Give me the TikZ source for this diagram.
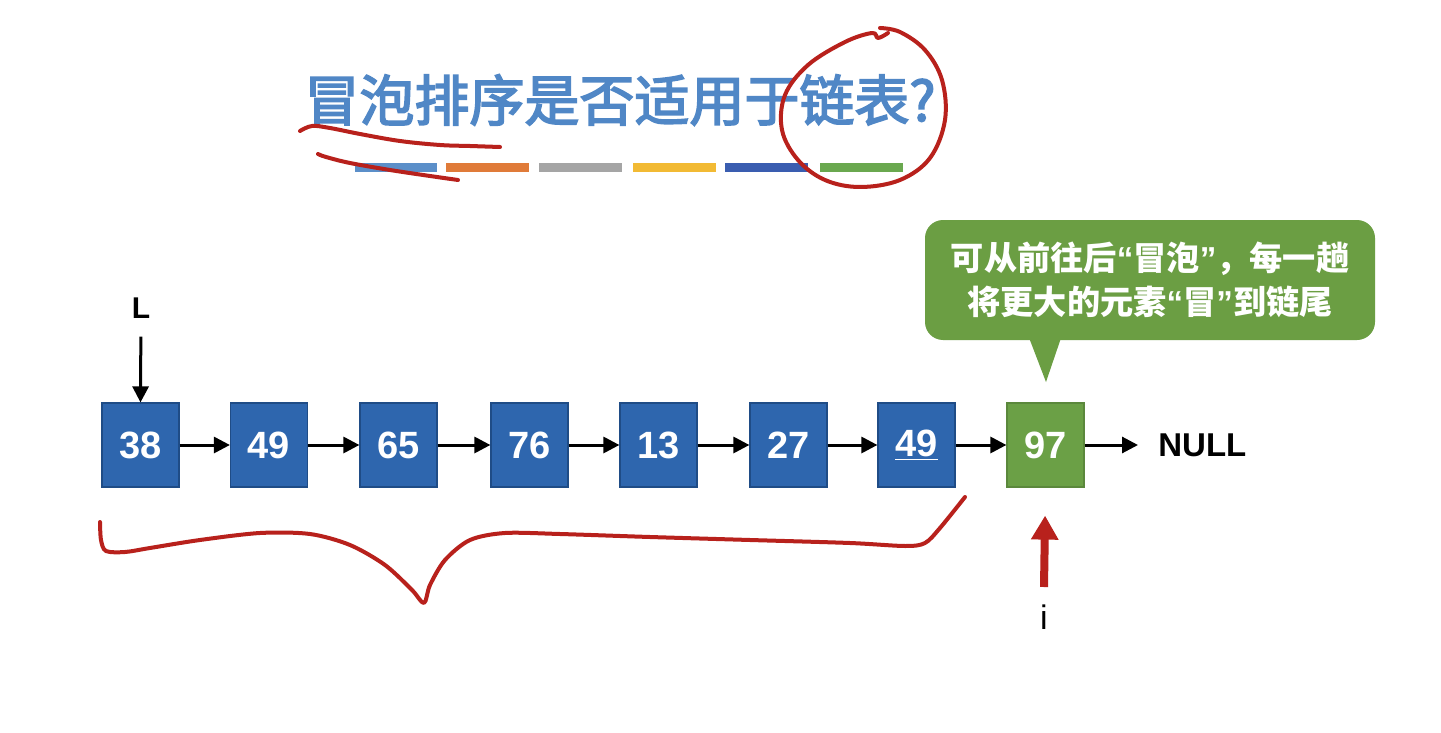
\documentclass[tikz,border=0pt]{standalone}
\usepackage{fontspec}
\setmainfont{Liberation Sans}
\newfontfamily\cjk{Noto Sans CJK SC}
\newfontfamily\cjktitle[FakeBold=3]{Noto Sans CJK SC}
\usetikzlibrary{arrows.meta}
\definecolor{boxblue}{HTML}{2E66AE}
\definecolor{boxborder}{HTML}{1F4C86}
\definecolor{boxgreen}{HTML}{6BA046}
\definecolor{bubgreen}{HTML}{6B9E43}
\definecolor{titleblue}{HTML}{5087C6}
\definecolor{inkred}{HTML}{B8211C}
\definecolor{barA}{HTML}{5B8FC9}
\definecolor{barB}{HTML}{E07B39}
\definecolor{barC}{HTML}{A5A5A5}
\definecolor{barD}{HTML}{F2BA34}
\definecolor{barE}{HTML}{3A5DB0}
\definecolor{barF}{HTML}{6AA84F}
\newcommand\myoq{{\rmfamily\bfseries “}}
\newcommand\mycq{{\rmfamily\bfseries ”}}
\tikzset{
  nodebox/.style={rectangle, fill=boxblue, draw=boxborder, line width=0.6pt,
    minimum width=38.5pt, minimum height=42pt, inner sep=0pt,
    text=white, font=\bfseries\fontsize{19}{21}\selectfont},
  tailbox/.style={nodebox, fill=boxgreen, draw=boxgreen!85!black},
  link/.style={-{Triangle[length=8pt,width=8pt]}, line width=1.5pt, black},
  ink/.style={inkred, line width=2pt, line cap=round, line join=round},
}
\begin{document}
\begin{tikzpicture}[x=0.5pt,y=-0.5pt]
\useasboundingbox (0,0) rectangle (1441,733);
\fill[white] (0,0) rectangle (1441,733);

% title
\node[text=titleblue, font=\cjktitle\fontsize{27.5}{30}\selectfont, inner sep=0pt] (title) at (620,100) {冒泡排序是否适用于链表?};

% colour bars
\fill[barA] (355,163) rectangle (437,172);
\fill[barB] (446,163) rectangle (529,172);
\fill[barC] (539,163) rectangle (622,172);
\fill[barD] (633,163) rectangle (716,172);
\fill[barE] (725,163) rectangle (808,172);
\fill[barF] (820,163) rectangle (903,172);

% list nodes
\node[nodebox] (n1) at (140.5,445) {38};
\node[nodebox] (n2) at (269,445) {49};
\node[nodebox] (n3) at (398.5,445) {65};
\node[nodebox] (n4) at (529.5,445) {76};
\node[nodebox] (n5) at (658.5,445) {13};
\node[nodebox] (n6) at (788.5,445) {27};
\node[nodebox] (n7) at (916.5,445) {\underline{49}};
\node[tailbox] (n8) at (1045.5,445) {97};
\node[anchor=west, inner sep=0pt, font=\bfseries\fontsize{16.5}{18}\selectfont] (null) at (1158,445) {NULL};

\foreach \a/\b in {n1/n2,n2/n3,n3/n4,n4/n5,n5/n6,n6/n7,n7/n8}
  \draw[link] (\a.east) -- (\b.west);
\draw[link, shorten >=10pt] (n8.east) -- (null.west);

% head pointer
\node[font=\bfseries\fontsize{15}{17}\selectfont, inner sep=0pt] (L) at (141,308) {L};
\draw[link, shorten <=9pt] (L) -- (n1.north);

% i pointer
\node[font=\fontsize{17}{19}\selectfont, inner sep=0pt] (i) at (1044,617) {i};
\coordinate (ibase) at (1044,587);
\draw[-{Triangle[length=12pt,width=13pt]}, line width=4pt, inkred, shorten >=14pt] (ibase) -- (n8.south);

% speech bubble
\node[rectangle, rounded corners=9pt, fill=bubgreen, text=white,
  minimum width=225pt, minimum height=60pt, align=center,
  font=\cjk\bfseries\fontsize{16.6}{22}\selectfont] (bubble) at (1150,280)
  {可从前往后\myoq 冒泡\mycq ，每一趟\\将更大的元素\myoq 冒\mycq 到链尾};
\fill[bubgreen] (1028,335) -- (1046,382) -- (1062,335) -- cycle;

% hand-drawn annotations
\draw[ink] plot[smooth, tension=0.6] coordinates {(300,131) (312,126) (330,128) (360,134) (400,141) (440,145) (470,146) (500,147)};
\draw[ink] plot[smooth, tension=0.6] coordinates {(318,154) (326,157) (350,163) (390,170) (430,176) (458,180)};
\draw[ink] plot[smooth, tension=0.6] coordinates {(888,33) (878,38) (872,33) (845,42) (808,65) (785,95) (782,130) (798,160) (825,180) (860,187) (900,180) (930,158) (945,120) (942,80) (925,50) (900,32) (880,28)};
\draw[ink] plot[smooth, tension=0.5] coordinates {(100,522) (101,540) (106,551) (125,552) (150,548) (200,540) (260,533) (310,534) (350,545) (385,565) (412,590) (424,603) (430,585) (445,560) (470,540) (505,533) (560,534) (650,537) (750,540) (850,543) (905,546) (925,543) (940,528) (965,497)};
\end{tikzpicture}
\end{document}
